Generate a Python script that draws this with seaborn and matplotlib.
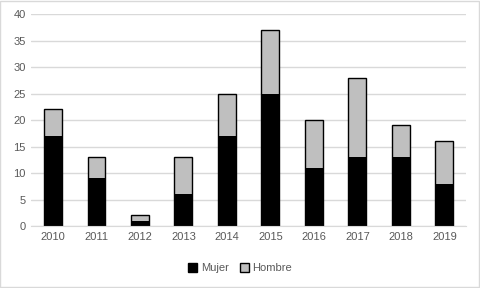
import matplotlib
matplotlib.use('Agg')
import matplotlib.pyplot as plt
import seaborn as sns
import pandas as pd
from matplotlib.patches import Patch

# data
years = ['2010', '2011', '2012', '2013', '2014', '2015', '2016', '2017', '2018', '2019']
mujer = [17, 9, 1, 6, 17, 25, 11, 13, 13, 8]
hombre = [5, 4, 1, 7, 8, 12, 9, 15, 6, 8]

df = pd.DataFrame({'year': years, 'Mujer': mujer, 'Hombre': hombre})
df['total'] = df['Mujer'] + df['Hombre']

sns.set_style('white')
plt.rcParams['font.family'] = ['Liberation Sans', 'DejaVu Sans']

fig = plt.figure(figsize=(4.8, 2.88), dpi=100)
ax = fig.add_axes([0.065, 0.215, 0.906, 0.736])

# stacked bars: total first (gray), then Mujer (black) on top of it
sns.barplot(x='year', y='total', data=df, color='#bfbfbf', width=0.41,
            edgecolor='black', linewidth=1, ax=ax, saturation=1)
sns.barplot(x='year', y='Mujer', data=df, color='black', width=0.41,
            edgecolor='black', linewidth=0, ax=ax, saturation=1)

ax.set_ylim(0, 40)
ax.set_yticks(range(0, 41, 5))
ax.set_xlim(-0.5, len(years) - 0.5)
ax.yaxis.grid(True, color='#d9d9d9', linewidth=1)
ax.set_axisbelow(True)
for s in ['top', 'right', 'left']:
    ax.spines[s].set_visible(False)
ax.spines['bottom'].set_color('#d9d9d9')
ax.set_xlabel('')
ax.set_ylabel('')
ax.tick_params(axis='both', length=0, labelsize=8, colors='#595959', pad=4)

handles = [Patch(facecolor='black', edgecolor='black', label='Mujer'),
           Patch(facecolor='#bfbfbf', edgecolor='black', label='Hombre')]
fig.legend(handles=handles, loc='center', bbox_to_anchor=(0.5, 0.068), ncol=2,
           frameon=False, fontsize=8, handlelength=0.8, handleheight=0.8,
           handletextpad=0.3, columnspacing=1.0, labelcolor='#595959')

# light frame around the figure
fig.patches.append(plt.Rectangle((0.001, 0.002), 0.997, 0.995, transform=fig.transFigure,
                                 fill=False, edgecolor='#d9d9d9', linewidth=1))

fig.savefig('out.png', dpi=100)
